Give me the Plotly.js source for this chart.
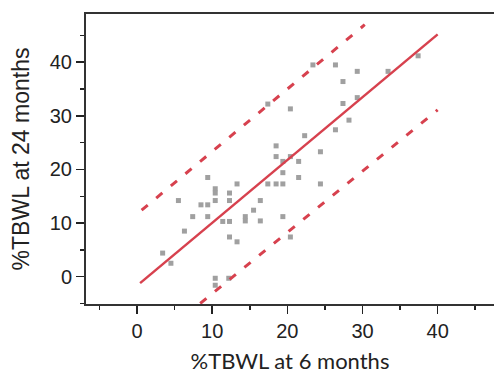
<!DOCTYPE html>
<html>
<head>
<meta charset="utf-8">
<script src="https://cdn.plot.ly/plotly-3.0.1.min.js"></script>
<style>html,body{margin:0;padding:0;background:#fff;}#chart{width:494px;height:374px;}</style>
</head>
<body>
<div id="chart"></div>
<script>
// Scatter points: %TBWL at 6 months (x) vs %TBWL at 24 months (y)
const tbwl6 = [3.4, 4.5, 5.5, 6.3, 7.4, 8.5, 9.4, 9.4, 9.4, 10.4, 10.4, 10.4, 10.4, 10.4,
  11.4, 12.3, 12.3, 12.3, 12.3, 12.2, 13.3, 13.3, 14.4, 14.4, 15.5, 16.4, 16.4,
  17.4, 17.4, 18.5, 18.5, 18.5, 19.4, 19.4, 19.4, 19.4, 20.4, 20.4, 20.4, 21.5, 21.5,
  22.3, 24.4, 24.4, 23.4, 26.4, 26.4, 27.4, 27.4, 28.2, 29.3, 29.3, 33.4, 37.4];
const tbwl24 = [4.4, 2.5, 14.2, 8.5, 11.2, 13.4, 13.4, 18.5, 11.2, 16.4, 15.6, 14.2, -0.3, -1.6,
  10.3, 15.6, 14.2, 10.3, 7.4, -0.3, 17.3, 6.5, 11.2, 10.4, 12.4, 14.2, 10.4,
  32.2, 17.3, 24.4, 22.4, 17.3, 21.5, 19.4, 17.3, 11.2, 31.3, 22.4, 7.4, 21.5, 18.5,
  26.3, 23.3, 17.3, 39.5, 39.5, 27.4, 36.4, 32.3, 29.2, 38.3, 33.4, 38.3, 41.2];

// Regression line and limits (endpoints)
const fitX = [0.4, 40.0];
const fitY = [-1.2, 45.2];
const upperX = [0.6, 30.3];
const upperY = [12.4, 47.0];
const lowerX = [8.4, 40.0];
const lowerY = [-5.0, 31.1];

// Tick labels
const xTicks = [0, 10, 20, 30, 40];
const yTicks = [0, 10, 20, 30, 40];

const red = '#d7414e';

const traces = [
  {x: tbwl6, y: tbwl24, type: 'scatter', mode: 'markers',
   marker: {symbol: 'square', size: 5, color: '#a0a0a0'}, hoverinfo: 'x+y'},
  {x: upperX, y: upperY, type: 'scatter', mode: 'lines',
   line: {color: red, width: 3, dash: '8px,11px'}},
  {x: lowerX, y: lowerY, type: 'scatter', mode: 'lines',
   line: {color: red, width: 3, dash: '8px,11px'}},
  {x: fitX, y: fitY, type: 'scatter', mode: 'lines',
   line: {color: red, width: 2.5}}
];

const tickFont = {family: '"Liberation Sans", Arial, sans-serif', size: 20, color: '#222'};

const layout = {
  width: 494, height: 374,
  margin: {l: 86, r: 0, t: 14, b: 70, pad: 0},
  paper_bgcolor: '#fff', plot_bgcolor: '#fff',
  showlegend: false,
  xaxis: {
    range: [-6.8, 47.5], tickvals: xTicks, ticktext: xTicks.map(String),
    ticks: 'outside', ticklen: 8, tickwidth: 1.5, tickcolor: '#222',
    minor: {dtick: 5, tick0: 0, ticks: 'outside', ticklen: 4, tickwidth: 1.5, tickcolor: '#222', showgrid: false},
    showgrid: false, zeroline: false,
    showline: true, linecolor: '#333', linewidth: 2, mirror: true,
    tickfont: tickFont,
    title: {text: '%TBWL at 6 months', font: {family: 'Lato, "Open Sans", sans-serif', size: 22, color: '#222'}, standoff: 16}
  },
  yaxis: {
    range: [-5.1, 49.0], tickvals: yTicks, ticktext: yTicks.map(String),
    ticks: 'outside', ticklen: 8, tickwidth: 1.5, tickcolor: '#222',
    minor: {dtick: 5, tick0: 0, ticks: 'outside', ticklen: 4, tickwidth: 1.5, tickcolor: '#222', showgrid: false},
    showgrid: false, zeroline: false,
    showline: true, linecolor: '#333', linewidth: 2,
    tickfont: tickFont,
    title: {text: '%TBWL at 24 months\u00a0\u00a0\u00a0\u00a0\u00a0\u00a0\u00a0', font: {family: '"Liberation Sans", Arial, sans-serif', size: 23, color: '#222'}, standoff: 14}
  }
};

Plotly.newPlot('chart', traces, layout, {staticPlot: true, displayModeBar: false});
</script>
</body>
</html>
